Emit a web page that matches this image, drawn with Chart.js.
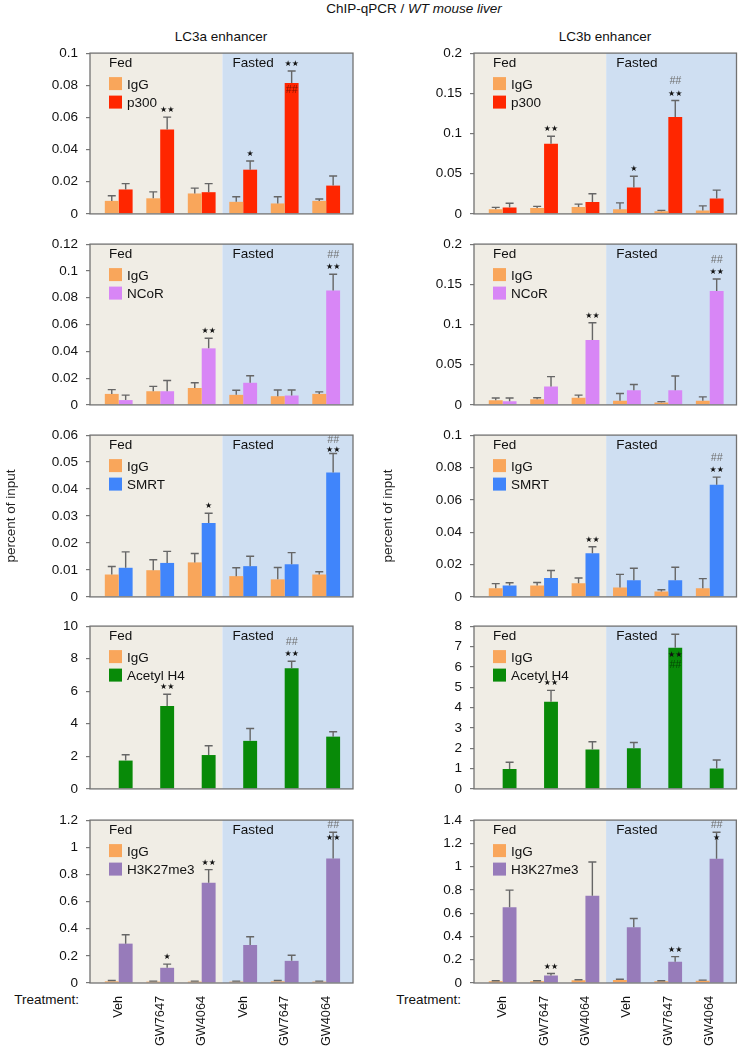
<!DOCTYPE html>
<html>
<head>
<meta charset="utf-8">
<script src="https://cdn.jsdelivr.net/npm/chart.js@4.4.0/dist/chart.umd.min.js"></script>
<style>
  body { margin: 0; width: 738px; height: 1050px; position: relative; background: #fff; overflow: hidden;
         font-family: "Liberation Sans", Arial, sans-serif; color: #111; }
  canvas { position: absolute; }
  .txt { position: absolute; font-size: 13.5px; white-space: nowrap; line-height: 16px; }
</style>
</head>
<body>
<div class="txt" style="left:264px;width:300px;top:1px;text-align:center">ChIP-qPCR / <i>WT mouse liver</i></div>
<div class="txt" style="left:121px;width:200px;top:29px;text-align:center">LC3a enhancer</div>
<div class="txt" style="left:505px;width:200px;top:29px;text-align:center">LC3b enhancer</div>
<div class="txt" style="left:0px;width:79px;top:992px;text-align:right">Treatment:</div>
<div class="txt" style="left:382px;width:79px;top:992px;text-align:right">Treatment:</div>
<script>
const treatments = ['Veh', 'GW7647', 'GW4064', 'Veh', 'GW7647', 'GW4064'];

// LC3a enhancer
const a_p300_igg = [0.0081, 0.0097, 0.0127, 0.0075, 0.0065, 0.0081];
const a_p300_igg_err = [0.0032, 0.0040, 0.0033, 0.0032, 0.0042, 0.0012];
const a_p300 = [0.0152, 0.0525, 0.0135, 0.0275, 0.0814, 0.0176];
const a_p300_err = [0.0036, 0.0077, 0.0053, 0.0054, 0.0075, 0.0060];
const a_p300_marks = [[1, '**', 'top'], [3, '*', 'top'], [4, '**', 'top'], [4, '##', 'in1']];

const a_ncor_igg = [0.0082, 0.0102, 0.0126, 0.0075, 0.0065, 0.0082];
const a_ncor_igg_err = [0.0032, 0.0036, 0.0039, 0.0034, 0.0046, 0.0015];
const a_ncor = [0.0036, 0.0102, 0.0422, 0.0165, 0.0070, 0.0853];
const a_ncor_err = [0.0037, 0.0080, 0.0075, 0.0053, 0.0041, 0.0122];
const a_ncor_marks = [[2, '**', 'top'], [5, '**', 'top'], [5, '##', 'top2']];

const a_smrt_igg = [0.0083, 0.0099, 0.0128, 0.0077, 0.0065, 0.0083];
const a_smrt_igg_err = [0.0030, 0.0039, 0.0033, 0.0031, 0.0044, 0.0010];
const a_smrt = [0.0108, 0.0126, 0.0274, 0.0114, 0.0121, 0.0461];
const a_smrt_err = [0.0059, 0.0043, 0.0036, 0.0037, 0.0043, 0.0071];
const a_smrt_marks = [[2, '*', 'top'], [5, '**', 'tight'], [5, '##', 'tight2']];

const a_h4_igg = [0.03, 0.03, 0.03, 0.03, 0.03, 0.03];
const a_h4_igg_err = [0, 0, 0, 0, 0, 0];
const a_h4 = [1.74, 5.09, 2.08, 2.95, 7.41, 3.21];
const a_h4_err = [0.36, 0.72, 0.57, 0.76, 0.43, 0.30];
const a_h4_marks = [[1, '**', 'top'], [4, '**', 'top'], [4, '##', 'top2']];

const a_k27_igg = [0.012, 0.010, 0.010, 0.010, 0.012, 0.010];
const a_k27_igg_err = [0.006, 0.004, 0.004, 0.004, 0.006, 0.004];
const a_k27 = [0.290, 0.112, 0.738, 0.280, 0.163, 0.918];
const a_k27_err = [0.065, 0.027, 0.097, 0.061, 0.041, 0.192];
const a_k27_marks = [[1, '*', 'top'], [2, '**', 'top'], [5, '**', 'onErr'], [5, '##', 'above']];

// LC3b enhancer
const b_p300_igg = [0.0057, 0.0073, 0.0085, 0.0057, 0.0032, 0.0041];
const b_p300_igg_err = [0.0024, 0.0020, 0.0036, 0.0080, 0.0012, 0.0059];
const b_p300 = [0.0081, 0.0873, 0.0149, 0.0327, 0.1204, 0.0190];
const b_p300_err = [0.0052, 0.0093, 0.0101, 0.0142, 0.0206, 0.0106];
const b_p300_marks = [[1, '**', 'top'], [3, '*', 'top'], [4, '**', 'top'], [4, '##', 'top2']];

const b_ncor_igg = [0.0057, 0.0069, 0.0089, 0.0053, 0.0029, 0.0053];
const b_ncor_igg_err = [0.0028, 0.0020, 0.0032, 0.0088, 0.0012, 0.0047];
const b_ncor = [0.0044, 0.0230, 0.0808, 0.0182, 0.0182, 0.1418];
const b_ncor_err = [0.0041, 0.0122, 0.0214, 0.0071, 0.0177, 0.0147];
const b_ncor_marks = [[2, '**', 'top'], [5, '**', 'top'], [5, '##', 'top2']];

const b_smrt_igg = [0.0054, 0.0070, 0.0085, 0.0058, 0.0034, 0.0054];
const b_smrt_igg_err = [0.0028, 0.0019, 0.0032, 0.0081, 0.0010, 0.0059];
const b_smrt = [0.0070, 0.0117, 0.0270, 0.0103, 0.0103, 0.0693];
const b_smrt_err = [0.0017, 0.0046, 0.0040, 0.0074, 0.0080, 0.0047];
const b_smrt_marks = [[2, '**', 'top'], [5, '**', 'top'], [5, '##', 'top2']];

const b_h4_igg = [0.03, 0.03, 0.03, 0.03, 0.03, 0.03];
const b_h4_igg_err = [0, 0, 0, 0, 0, 0];
const b_h4 = [0.98, 4.28, 1.94, 2.00, 6.94, 1.00];
const b_h4_err = [0.33, 0.56, 0.38, 0.28, 0.66, 0.42];
const b_h4_marks = [[1, '**', 'top'], [4, '**', 'in1'], [4, '##', 'in2']];

const b_k27_igg = [0.014, 0.014, 0.023, 0.026, 0.014, 0.020];
const b_k27_igg_err = [0.005, 0.005, 0.005, 0.006, 0.005, 0.005];
const b_k27 = [0.650, 0.065, 0.750, 0.480, 0.182, 1.068];
const b_k27_err = [0.148, 0.017, 0.290, 0.074, 0.045, 0.227];
const b_k27_marks = [[1, '**', 'top'], [4, '**', 'top'], [5, '*', 'onErr'], [5, '##', 'above']];

// axis ranges per row
const yMaxA = [0.1, 0.12, 0.06, 10, 1.2];
const yStepA = [0.02, 0.02, 0.01, 2, 0.2];
const yMaxB = [0.2, 0.2, 0.1, 8, 1.4];
const yStepB = [0.05, 0.05, 0.02, 1, 0.2];

const antibodies = ['p300', 'NCoR', 'SMRT', 'Acetyl H4', 'H3K27me3'];
const abColors = ['#ff2600', '#d886f6', '#4085fb', '#088a08', '#977bba'];
const IGG_COLOR = '#f9a65b';
const FED_BG = '#f0ede5';
const FASTED_BG = '#cfdff2';
const FONT = "'Liberation Sans', Arial, sans-serif";

const panelTop = [51, 242, 433, 624, 818];
const panelBottom = [216, 407, 599, 791, 983];

const markOffset = { top: -7, top2: -19, tight: -4, tight2: -13, onErr: 6, above: -7 };

const panelDeco = {
    id: 'panelDeco',
    beforeDatasetsDraw(chart) {
        const { ctx, chartArea: a, scales } = chart;
        const split = scales.x.getPixelForValue(2.5);
        ctx.save();
        ctx.fillStyle = FED_BG;
        ctx.fillRect(a.left, a.top, split - a.left, a.bottom - a.top);
        ctx.fillStyle = FASTED_BG;
        ctx.fillRect(split, a.top, a.right - split, a.bottom - a.top);
        ctx.restore();
    },
    afterDatasetsDraw(chart) {
        const { ctx, chartArea: a, scales } = chart;
        const ys = scales.y;
        const split = scales.x.getPixelForValue(2.5);
        ctx.save();

        // error bars (upper only)
        ctx.strokeStyle = '#666';
        ctx.lineWidth = 1.4;
        chart.data.datasets.forEach((ds, di) => {
            const meta = chart.getDatasetMeta(di);
            meta.data.forEach((bar, i) => {
                const e = ds.err[i];
                if (!e) return;
                const yTop = ys.getPixelForValue(ds.data[i] + e);
                ctx.beginPath();
                ctx.moveTo(bar.x, bar.y);
                ctx.lineTo(bar.x, yTop);
                ctx.moveTo(bar.x - 4, yTop);
                ctx.lineTo(bar.x + 4, yTop);
                ctx.stroke();
            });
        });

        // frame
        ctx.strokeStyle = '#727272';
        ctx.lineWidth = 1.3;
        ctx.strokeRect(a.left, a.top, a.right - a.left, a.bottom - a.top);

        // Fed / Fasted and legend
        ctx.fillStyle = '#111';
        ctx.font = '13.5px ' + FONT;
        ctx.textBaseline = 'alphabetic';
        ctx.textAlign = 'left';
        ctx.fillText('Fed', a.left + 19, a.top + 14.3);
        ctx.fillText('Fasted', split + 10, a.top + 14.3);
        chart.data.datasets.forEach((ds, di) => {
            const y0 = a.top + 24 + di * 18.5;
            ctx.fillStyle = ds.backgroundColor;
            ctx.fillRect(a.left + 19, y0, 13, 13);
            ctx.fillStyle = '#111';
            ctx.fillText(ds.label, a.left + 37, y0 + 11.5);
        });

        // significance marks
        const ab = chart.data.datasets[1];
        const meta = chart.getDatasetMeta(1);
        ctx.textAlign = 'center';
        ctx.textBaseline = 'middle';
        chart.options.marks.forEach(([gi, txt, mode]) => {
            const bar = meta.data[gi];
            const errTop = ys.getPixelForValue(ab.data[gi] + ab.err[gi]);
            let y;
            if (mode === 'in1') y = bar.y + 7;
            else if (mode === 'in2') y = bar.y + 17;
            else y = errTop + markOffset[mode];
            const inside = mode.startsWith('in');
            if (txt === '##') {
                ctx.font = 'italic 10.5px ' + FONT;
                ctx.fillStyle = inside ? 'rgba(0,0,0,0.5)' : '#6e6e6e';
                ctx.fillText('##', bar.x, y);
            } else {
                ctx.font = "8px 'DejaVu Sans'";
                ctx.fillStyle = '#111';
                ctx.fillText(txt === '**' ? '\u2605\u2605' : '\u2605', bar.x, y);
            }
        });
        ctx.restore();
    }
};

function makePanel(col, row, igg, iggErr, vals, valsErr, marks) {
    const last = row === 4;
    const top = panelTop[row] - 14;
    const h = last ? 1050 - top : panelBottom[row] - panelTop[row] + 28;
    const cv = document.createElement('canvas');
    cv.width = 369;
    cv.height = h;
    cv.style.left = (col === 0 ? 0 : 369) + 'px';
    cv.style.top = top + 'px';
    document.body.appendChild(cv);

    new Chart(cv, {
        type: 'bar',
        data: {
            labels: [0, 1, 2, 3, 4, 5],
            datasets: [
                { label: 'IgG', data: igg, err: iggErr, backgroundColor: IGG_COLOR,
                  categoryPercentage: 0.67, barPercentage: 1.0 },
                { label: antibodies[row], data: vals, err: valsErr, backgroundColor: abColors[row],
                  categoryPercentage: 0.67, barPercentage: 1.0 }
            ]
        },
        options: {
            responsive: false,
            animation: false,
            marks: marks,
            layout: { padding: { left: 0, right: col === 0 ? 16 : 1.5, top: 14, bottom: last ? 3 : 14 } },
            plugins: { legend: { display: false }, tooltip: { enabled: false } },
            scales: {
                x: {
                    type: 'linear',
                    offset: false,
                    min: -0.692,
                    max: 5.646,
                    display: last,
                    afterBuildTicks: s => { s.ticks = treatments.map((_, i) => ({ value: i })); },
                    afterFit: s => { if (last) s.height = 64; },
                    grid: { display: false, drawTicks: false },
                    border: { display: false },
                    ticks: {
                        autoSkip: false, minRotation: 90, maxRotation: 90, padding: 13,
                        color: '#111', font: { size: 12.7, family: FONT },
                        callback: v => treatments[v]
                    }
                },
                y: {
                    min: 0,
                    max: col === 0 ? yMaxA[row] : yMaxB[row],
                    afterFit: s => { s.width = col === 0 ? 90 : 105; },
                    ticks: {
                        stepSize: col === 0 ? yStepA[row] : yStepB[row],
                        autoSkip: false,
                        padding: 8, color: '#111', font: { size: 13.5, family: FONT },
                        callback: v => String(parseFloat(Number(v).toFixed(6)))
                    },
                    grid: { drawOnChartArea: false, tickLength: 4, color: '#777', lineWidth: 1.2 },
                    border: { display: false },
                    title: {
                        display: row === 2, text: 'percent of input', color: '#222',
                        font: { size: 13.5, family: FONT },
                        padding: { top: col === 0 ? 3 : 11, bottom: 0 }
                    }
                }
            }
        },
        plugins: [panelDeco]
    });
}

makePanel(0, 0, a_p300_igg, a_p300_igg_err, a_p300, a_p300_err, a_p300_marks);
makePanel(0, 1, a_ncor_igg, a_ncor_igg_err, a_ncor, a_ncor_err, a_ncor_marks);
makePanel(0, 2, a_smrt_igg, a_smrt_igg_err, a_smrt, a_smrt_err, a_smrt_marks);
makePanel(0, 3, a_h4_igg, a_h4_igg_err, a_h4, a_h4_err, a_h4_marks);
makePanel(0, 4, a_k27_igg, a_k27_igg_err, a_k27, a_k27_err, a_k27_marks);

makePanel(1, 0, b_p300_igg, b_p300_igg_err, b_p300, b_p300_err, b_p300_marks);
makePanel(1, 1, b_ncor_igg, b_ncor_igg_err, b_ncor, b_ncor_err, b_ncor_marks);
makePanel(1, 2, b_smrt_igg, b_smrt_igg_err, b_smrt, b_smrt_err, b_smrt_marks);
makePanel(1, 3, b_h4_igg, b_h4_igg_err, b_h4, b_h4_err, b_h4_marks);
makePanel(1, 4, b_k27_igg, b_k27_igg_err, b_k27, b_k27_err, b_k27_marks);
</script>
</body>
</html>
